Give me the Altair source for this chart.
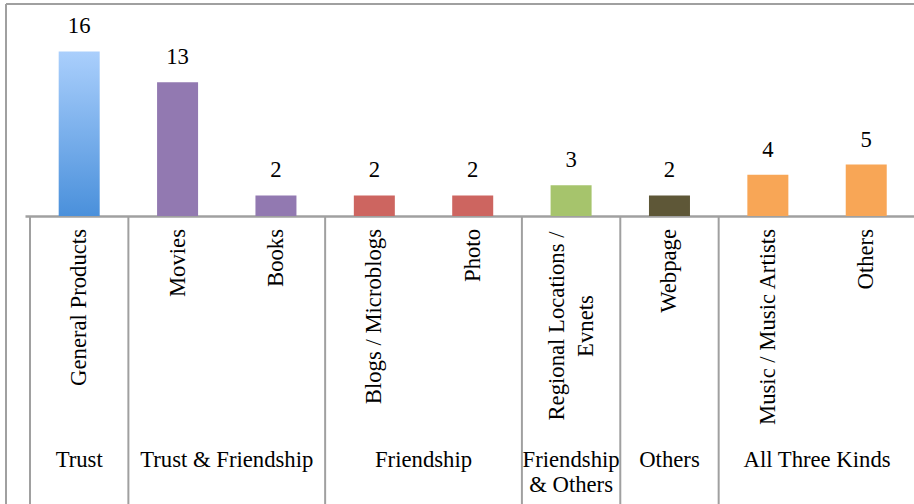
import altair as alt
import pandas as pd

# ---- data ----
categories = ["General Products", "Movies", "Books", "Blogs / Microblogs", "Photo",
              "Regional Locations /\nEvnets", "Webpage", "Music / Music Artists", "Others"]
values = [16, 13, 2, 2, 2, 3, 2, 4, 5]
bar_colors = ["#79AEEB", "#9279B1", "#9279B1", "#CD6560", "#CD6560",
              "#A6C46C", "#5E5737", "#F8A656", "#F8A656"]

groups = ["Trust", "Trust & Friendship", "Friendship", "Friendship\n& Others", "Others", "All Three Kinds"]
group_start = [0, 1, 3, 5, 6, 7]
group_end = [1, 3, 5, 6, 7, 9]

FONT = "Liberation Serif"
FS = 22.7
LEFT = 25
W, H = 914 - LEFT, 216
STEP = 99.5
TOTAL_H = 504

df = pd.DataFrame({
    "idx": list(range(len(categories))),
    "label": categories,
    "value": values,
    "color": bar_colors,
})
df["pos"] = df["idx"] + 0.5
df["multiline"] = df["label"].str.contains("\n")

gdf = pd.DataFrame({"group": groups, "start": group_start, "end": group_end})
gdf["center"] = (gdf["start"] + gdf["end"]) / 2
bdf = pd.DataFrame({"b": group_start + [9]})

xscale = alt.Scale(domain=[0, W / STEP], nice=False, zero=False)
yscale = alt.Scale(domain=[0, 21], nice=False)
xenc = alt.X("pos:Q", scale=xscale,
             axis=alt.Axis(labels=False, ticks=False, grid=False, title=None,
                           domainColor="#A0A0A0", domainWidth=2.5))

base = alt.Chart(df)

grad = alt.Gradient(gradient="linear", x1=0, x2=0, y1=0, y2=1,
                    stops=[alt.GradientStop(color="#AACFFC", offset=0),
                           alt.GradientStop(color="#4A90DB", offset=1)])

bar_first = base.transform_filter("datum.idx == 0").mark_bar(width=41, color=grad).encode(
    x=xenc,
    y=alt.Y("value:Q", scale=yscale, axis=None),
)
bars_rest = base.transform_filter("datum.idx > 0").mark_bar(width=41).encode(
    x=alt.X("pos:Q", scale=xscale),
    y=alt.Y("value:Q", scale=yscale),
    color=alt.Color("color:N", scale=None),
)

value_text = base.mark_text(dy=-18, baseline="alphabetic", font=FONT, fontSize=FS, color="black").encode(
    x=alt.X("pos:Q", scale=xscale),
    y=alt.Y("value:Q", scale=yscale),
    text=alt.Text("value:Q"),
)

cat_text = base.transform_filter("!datum.multiline").mark_text(
    angle=270, align="right", baseline="middle", font=FONT, fontSize=FS, color="black"
).encode(
    x=alt.X("pos:Q", scale=xscale),
    y=alt.value(229),
    text="label:N",
)
cat_text_ml = base.transform_filter("datum.multiline").mark_text(
    angle=270, align="center", baseline="middle", font=FONT, fontSize=FS, color="black",
    lineBreak="\n", lineHeight=28.5, dy=-14
).encode(
    x=alt.X("pos:Q", scale=xscale),
    y=alt.value(326),
    text="label:N",
)

group_text = alt.Chart(gdf).mark_text(
    baseline="alphabetic", align="center", font=FONT, fontSize=FS, color="black",
    lineBreak="\n", lineHeight=25
).encode(
    x=alt.X("center:Q", scale=xscale),
    y=alt.value(467),
    text="group:N",
)

separators = alt.Chart(bdf).mark_rule(color="#A0A0A0", strokeWidth=2).encode(
    x=alt.X("b:Q", scale=xscale),
    y=alt.value(H + 1),
    y2=alt.value(TOTAL_H),
)

border_top = alt.Chart(bdf).mark_rule(color="#A0A0A0", strokeWidth=2).encode(
    x=alt.value(-LEFT + 6), x2=alt.value(W), y=alt.value(4),
)
border_left = alt.Chart(bdf).mark_rule(color="#A0A0A0", strokeWidth=2).encode(
    x=alt.value(-LEFT + 6), y=alt.value(4), y2=alt.value(TOTAL_H),
)

chart = alt.layer(
    border_top, border_left, separators,
    bar_first, bars_rest, value_text, cat_text, cat_text_ml, group_text,
).properties(
    width=W, height=H,
    autosize=alt.AutoSizeParams(type="none"),
    padding={"left": LEFT, "top": 0, "right": 0, "bottom": TOTAL_H - H},
    background="white",
).configure_view(stroke=None)

chart.save("out.html", embed_options={"renderer": "svg", "actions": False})
